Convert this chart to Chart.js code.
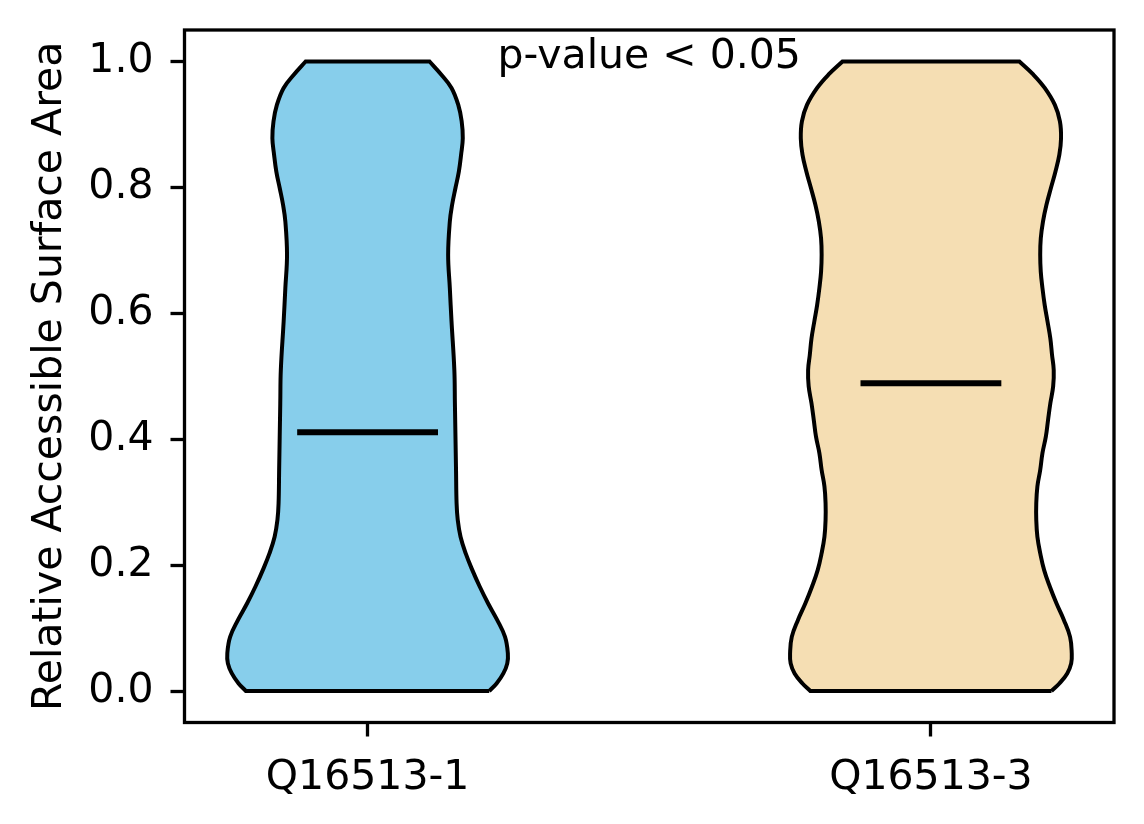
<!DOCTYPE html>
<html>
<head>
<meta charset="utf-8">
<script src="https://cdn.jsdelivr.net/npm/chart.js@4.4.1/dist/chart.umd.min.js"></script>
<style>
  html, body { margin: 0; padding: 0; background: #fff; }
  canvas { display: block; }
</style>
</head>
<body>
<canvas id="chart" width="1144" height="824"></canvas>
<script>
const categories = ['Q16513-1', 'Q16513-3'];
const positions = [1, 2];
const yTicks = [0, 0.2, 0.4, 0.6, 0.8, 1.0];

// violin outlines: height -> half width (x units)
const levels1 = [0, 0.012, 0.028, 0.044, 0.060, 0.086, 0.113, 0.139, 0.166, 0.192,
                 0.219, 0.245, 0.272, 0.298, 0.351, 0.404, 0.457, 0.510, 0.587, 0.640,
                 0.693, 0.746, 0.772, 0.799, 0.825, 0.852, 0.878, 0.905, 0.931, 0.958,
                 0.979, 1.0];
const halfWidths1 = [0.216, 0.229, 0.241, 0.248, 0.249, 0.244, 0.230, 0.214, 0.199, 0.186,
                     0.174, 0.165, 0.160, 0.158, 0.157, 0.156, 0.155, 0.154, 0.149, 0.146,
                     0.143, 0.146, 0.150, 0.156, 0.162, 0.166, 0.169, 0.167, 0.161, 0.149,
                     0.131, 0.110];
const levels2 = [0, 0.012, 0.028, 0.044, 0.060, 0.086, 0.113, 0.139, 0.166, 0.192,
                 0.219, 0.245, 0.272, 0.298, 0.325, 0.351, 0.378, 0.404, 0.431, 0.457,
                 0.484, 0.510, 0.534, 0.560, 0.587, 0.613, 0.640, 0.666, 0.693, 0.719,
                 0.746, 0.772, 0.799, 0.825, 0.852, 0.878, 0.905, 0.931, 0.958, 0.979,
                 1.0];
const halfWidths2 = [0.214, 0.228, 0.242, 0.249, 0.250, 0.247, 0.236, 0.223, 0.211, 0.201,
                     0.194, 0.189, 0.187, 0.187, 0.189, 0.194, 0.198, 0.204, 0.208, 0.212,
                     0.217, 0.218, 0.215, 0.212, 0.207, 0.202, 0.198, 0.195, 0.194, 0.195,
                     0.199, 0.205, 0.213, 0.221, 0.228, 0.231, 0.229, 0.220, 0.202, 0.182,
                     0.157];
const medians = [0.411, 0.489];
const pText = 'p-value < 0.05';

const colors = ['#87CEEB', '#F5DEB3'];
const FONT = 41;

// closed outline: up the right side, down the left, corners doubled so they stay sharp
function outline(center, levels, half) {
  const n = levels.length;
  const pts = [];
  for (let i = 0; i < n; i++) pts.push({x: center + half[i], y: levels[i]});
  pts.push({x: center + half[n - 1], y: levels[n - 1]});
  for (let i = n - 1; i >= 0; i--) {
    pts.push({x: center - half[i], y: levels[i]});
    if (i === n - 1 || i === 0) pts.push({x: center - half[i], y: levels[i]});
  }
  pts.push({x: center + half[0], y: levels[0]});
  return pts;
}

const violins = [[levels1, halfWidths1], [levels2, halfWidths2]];
const datasets = [];
violins.forEach((v, i) => {
  datasets.push({
    data: outline(positions[i], v[0], v[1]),
    borderColor: '#000',
    borderWidth: 4,
    backgroundColor: colors[i],
    fill: 'shape',
    tension: 0.4,
    pointRadius: 0,
    order: 2
  });
  datasets.push({
    data: [{x: positions[i] - 0.125, y: medians[i]}, {x: positions[i] + 0.125, y: medians[i]}],
    borderColor: '#000',
    borderWidth: 6,
    borderCapStyle: 'butt',
    fill: false,
    pointRadius: 0,
    order: 1
  });
});

const frame = {
  id: 'frame',
  afterDatasetsDraw(chart) {
    const {ctx, chartArea: a} = chart;
    ctx.save();
    ctx.strokeStyle = '#000';
    ctx.lineWidth = 3.3;
    ctx.strokeRect(a.left, a.top, a.right - a.left, a.bottom - a.top);
    ctx.restore();
  },
  afterDraw(chart) {
    const ctx = chart.ctx;
    ctx.save();
    ctx.fillStyle = '#000';
    ctx.font = FONT + 'px "DejaVu Sans"';
    ctx.textAlign = 'center';
    ctx.textBaseline = 'alphabetic';
    ctx.fillText(pText, chart.scales.x.getPixelForValue(1.5), chart.scales.y.getPixelForValue(0.99));
    ctx.restore();
  }
};

Chart.defaults.font.family = '"DejaVu Sans", sans-serif';
Chart.defaults.color = '#000';

const tickGrid = {
  display: true, drawOnChartArea: false, drawTicks: true,
  tickLength: 14, tickWidth: 3.3, tickColor: '#000'
};

new Chart('chart', {
  type: 'line',
  data: { datasets: datasets },
  options: {
    responsive: false,
    animation: false,
    layout: { padding: { left: 0, right: 30, top: 30, bottom: 0 } },
    plugins: { legend: { display: false }, tooltip: { enabled: false } },
    scales: {
      x: {
        type: 'linear', min: 0.675, max: 2.325,
        afterBuildTicks: s => { s.ticks = positions.map(v => ({value: v})); },
        afterFit: s => { s.height = 101.5; s.paddingLeft = 0; s.paddingRight = 0; },
        ticks: {
          autoSkip: false, maxRotation: 0, padding: 17, color: '#000',
          font: { size: FONT },
          callback: v => categories[positions.indexOf(v)]
        },
        grid: tickGrid,
        border: { display: false }
      },
      y: {
        type: 'linear', min: -0.05, max: 1.05,
        afterBuildTicks: s => { s.ticks = yTicks.map(v => ({value: v})); },
        afterFit: s => { s.width = 184.5; s.paddingTop = 0; s.paddingBottom = 0; },
        ticks: { padding: 17, color: '#000', font: { size: FONT }, callback: v => v.toFixed(1) },
        grid: tickGrid,
        border: { display: false },
        title: {
          display: true, text: 'Relative Accessible Surface Area', color: '#000',
          font: { size: FONT }, padding: { top: 26, bottom: 0 }
        }
      }
    }
  },
  plugins: [frame]
});
</script>
</body>
</html>
